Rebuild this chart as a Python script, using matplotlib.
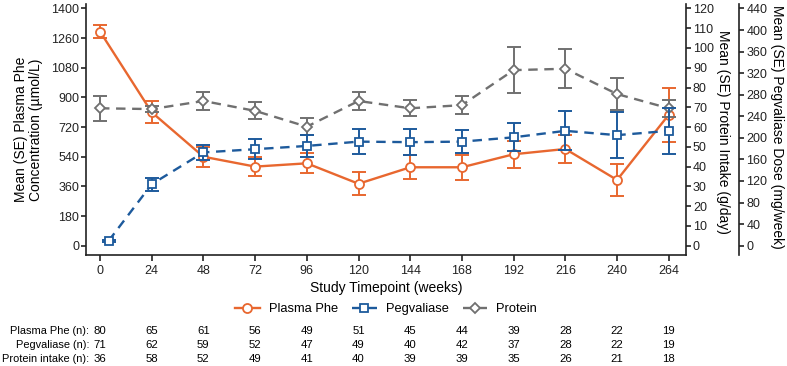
import matplotlib
matplotlib.use("Agg")
import matplotlib.pyplot as plt
import matplotlib.transforms as mtransforms
import numpy as np

plt.rcParams['font.family'] = ['Liberation Sans', 'DejaVu Sans']

# ---- data ----
weeks = [0, 24, 48, 72, 96, 120, 144, 168, 192, 216, 240, 264]
peg_weeks = [4, 24, 48, 72, 96, 120, 144, 168, 192, 216, 240, 264]

phe_mean = [1300, 810, 540, 480, 500, 376, 476, 476, 555, 587, 399, 795]
phe_se = [40, 66, 60, 56, 60, 69, 73, 76, 81, 86, 99, 165]

peg_mean = [9, 114, 173, 179, 185, 193, 192, 193, 201, 213, 205, 213]
peg_se = [2, 12, 14, 18, 21, 23, 24, 21, 26, 36, 43, 43]

prot_mean = [69.5, 69.1, 73.2, 68.2, 60.2, 73.2, 69.5, 71.1, 88.8, 89.5, 76.7, 69.5]
prot_se = [6.3, 1.5, 4.4, 4.3, 4.3, 4.4, 4.0, 4.5, 11.6, 9.9, 8.0, 4.2]

phe_n = [80, 65, 61, 56, 49, 51, 45, 44, 39, 28, 22, 19]
peg_n = [71, 62, 59, 52, 47, 49, 40, 42, 37, 28, 22, 19]
prot_n = [36, 58, 52, 49, 41, 40, 39, 39, 35, 26, 21, 18]
row_labels = ["Plasma Phe (n):", "Pegvaliase (n):", "Protein intake (n):"]

left_ticks = [0, 180, 360, 540, 720, 900, 1080, 1260, 1440]
left_labels = ["0", "180", "360", "540", "720", "900", "1080", "1260", "1400"]
prot_ticks = list(range(0, 121, 10))
peg_ticks = list(range(0, 441, 40))

c_phe = '#E8672F'
c_peg = '#1D5A9C'
c_prot = '#707070'

W, H = 787, 366
fig = plt.figure(figsize=(W / 100, H / 100), dpi=100)
ax_l, ax_r, ax_b, ax_t = 86, 686, 255, 4
ax = fig.add_axes([ax_l / W, 1 - ax_b / H, (ax_r - ax_l) / W, (ax_b - ax_t) / H])
ax2 = ax.twinx()
ax3 = ax.twinx()

ylo, yhi = -56.5, 1467
ax.set_ylim(ylo, yhi)
ax2.set_ylim(ylo / 12, yhi / 12)
ax3.set_ylim(ylo * 440 / 1440, yhi * 440 / 1440)
ax.set_xlim(-6.5, 272)

lw = 1.7
ms = 6.5
cap = 5

# Plasma Phe
ax.errorbar(weeks, phe_mean, yerr=phe_se, fmt='none', ecolor=c_phe, elinewidth=1.4, capsize=cap, capthick=1.4, zorder=2)
h1, = ax.plot(weeks, phe_mean, color=c_phe, lw=lw, ls='-', marker='o', ms=ms, mfc='white', mec=c_phe, mew=1.3, zorder=3, label='Plasma Phe')

# Protein
ax2.errorbar(weeks, prot_mean, yerr=prot_se, fmt='none', ecolor=c_prot, elinewidth=1.4, capsize=cap, capthick=1.4, zorder=2)
h3, = ax2.plot(weeks, prot_mean, color=c_prot, lw=lw, ls=(0, (4, 2.8)), marker='D', ms=ms * 0.85, mfc='white', mec=c_prot, mew=1.3, zorder=3, label='Protein')

# Pegvaliase
ax3.errorbar(peg_weeks, peg_mean, yerr=peg_se, fmt='none', ecolor=c_peg, elinewidth=1.4, capsize=cap, capthick=1.4, zorder=2)
h2, = ax3.plot(peg_weeks, peg_mean, color=c_peg, lw=lw, ls=(0, (4, 2.8)), marker='s', ms=ms * 0.95, mfc='white', mec=c_peg, mew=1.3, zorder=3, label='Pegvaliase')

# spines
for a in (ax, ax2, ax3):
    a.spines['top'].set_visible(False)
    a.patch.set_visible(False)
ax.spines['right'].set_visible(False)
ax2.spines['left'].set_visible(False)
ax3.spines['left'].set_visible(False)
ax2.spines['bottom'].set_visible(False)
ax3.spines['bottom'].set_visible(False)
ax3.spines['right'].set_position(('outward', 38.4))
for a in (ax, ax2, ax3):
    for s in a.spines.values():
        s.set_linewidth(1.2)
        s.set_color('#222222')

fs_tick = 9
ax.set_xticks(weeks)
ax.set_xticklabels([str(w) for w in weeks])
ax.set_yticks(left_ticks)
ax.set_yticklabels(left_labels)
ax2.set_yticks(prot_ticks)
ax3.set_yticks(peg_ticks)
for a in (ax, ax2, ax3):
    a.tick_params(direction='out', length=3.5, width=1.2, labelsize=fs_tick, colors='#222222', pad=1.5)
ax.tick_params(axis='x', length=4.5, pad=2.5)

# labels
ax.set_ylabel("Mean (SE) Plasma Phe\nConcentration (µmol/L)", fontsize=10, ha='center', va='center', linespacing=1.15)
ax.yaxis.set_label_coords(-0.096, 0.5)
ax2.set_ylabel("Mean (SE) Protein Intake (g/day)", fontsize=10, rotation=270, ha='center', va='center')
ax2.yaxis.set_label_coords(1.0617, 0.49)
ax3.set_ylabel("Mean (SE) Pegvaliase Dose (mg/week)", fontsize=10, rotation=270, ha='center', va='center')
ax3.yaxis.set_label_coords(1.152, 0.51)
ax.set_xlabel("Study Timepoint (weeks)", fontsize=10, va='center')
ax.xaxis.set_label_coords(0.5, (ax_b - 288) / (ax_b - ax_t))

# legend
ax.legend(handles=[h1, h2, h3], loc='center', bbox_to_anchor=(0.5, (ax_b - 309) / (ax_b - ax_t)),
          ncol=3, frameon=False, fontsize=9.3, handlelength=1.9, handletextpad=0.7,
          columnspacing=1.1, borderaxespad=0, borderpad=0)

# table of n
trans = mtransforms.blended_transform_factory(ax.transData, fig.transFigure)
rows = [phe_n, peg_n, prot_n]
row_y = [331, 345, 359]
for lab, vals, yp in zip(row_labels, rows, row_y):
    yf = 1 - yp / H
    fig.text(89.5 / W, yf, lab, ha='right', va='center', fontsize=7.9)
    for w, v in zip(weeks, vals):
        ax.text(w, yf, str(v), transform=trans, ha='center', va='center', fontsize=8.2, clip_on=False)

fig.savefig('out.png', dpi=100)
